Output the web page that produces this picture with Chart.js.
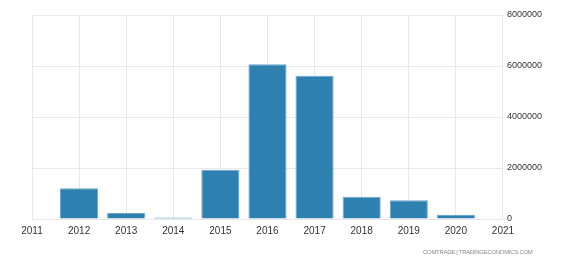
<!DOCTYPE html>
<html>
<head>
<meta charset="utf-8">
<script src="https://cdn.jsdelivr.net/npm/chart.js@4/dist/chart.umd.min.js"></script>
<style>
  html, body { margin: 0; padding: 0; background: #fff; }
  #wrap { position: relative; width: 567px; height: 264px; }
  #source {
    position: absolute; left: 423px; top: 249px; white-space: nowrap;
    font: 6px "Liberation Sans", Arial, sans-serif; color: #8a8a8a; letter-spacing: -0.3px;
  }
</style>
</head>
<body>
<div id="wrap">
  <canvas id="chart" width="567" height="264"></canvas>
  <div id="source">COMTRADE | TRADINGECONOMICS.COM</div>
</div>
<script>
// data
const years = [2012, 2013, 2014, 2015, 2016, 2017, 2018, 2019, 2020];
const values = [1210000, 240000, 55000, 1930000, 6070000, 5620000, 870000, 740000, 160000];
const yTicks = [0, 2000000, 4000000, 6000000, 8000000];

const ctx = document.getElementById('chart');
const points = years.map((y, i) => ({ x: y, y: values[i] }));

new Chart(ctx, {
    type: 'bar',
    data: {
        datasets: [{
            data: points,
            backgroundColor: '#2e80ae',
            borderColor: '#6aa6cc',
            borderWidth: 1,
            barPercentage: 0.81,
            categoryPercentage: 1
        }]
    },
    options: {
        responsive: false,
        animation: false,
        layout: { padding: { left: 32, right: 21, top: 15, bottom: 21 } },
        plugins: { legend: { display: false }, tooltip: { enabled: false } },
        scales: {
            x: {
                type: 'linear', min: 2011, max: 2021, offset: false,
                grid: { color: '#e8e8e8', drawTicks: false, offset: false },
                border: { display: false },
                ticks: {
                    stepSize: 1, padding: 6, color: '#333',
                    font: { family: 'Liberation Sans', size: 10 },
                    callback: v => String(v)
                }
            },
            y: {
                position: 'right', min: 0, max: 8000000,
                afterBuildTicks: axis => { axis.ticks = yTicks.map(v => ({ value: v })); },
                grid: { color: '#e8e8e8', drawTicks: false },
                border: { display: false },
                ticks: {
                    padding: 4, color: '#333',
                    font: { family: 'Liberation Sans', size: 9 },
                    callback: v => String(v)
                }
            }
        }
    }
});
</script>
</body>
</html>
